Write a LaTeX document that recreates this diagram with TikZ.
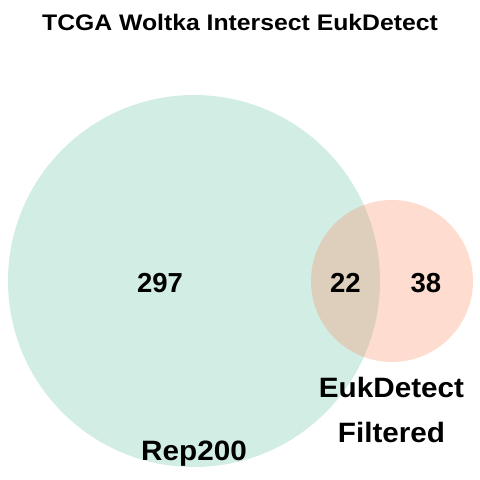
\documentclass[tikz,border=0pt]{standalone}
\usepackage{fontspec}
\setmainfont{Liberation Sans}
\newfontfamily\titlefont[FakeStretch=1.1]{Liberation Sans}
\newfontfamily\setfont[FakeStretch=1.06]{Liberation Sans}
\definecolor{setA}{HTML}{66C2A5}
\definecolor{setB}{HTML}{FC8D62}
\tikzset{
  setcircle/.style={circle, draw=none, inner sep=0pt, fill opacity=0.3},
  countlabel/.style={anchor=base, inner sep=0pt, font=\fontsize{27.5}{30}\selectfont\bfseries},
  setlabel/.style={anchor=base, inner sep=0pt, font=\setfont\fontsize{28}{30}\selectfont\bfseries},
  titlelabel/.style={anchor=base, inner sep=0pt, font=\titlefont\fontsize{22.5}{25}\selectfont\bfseries}
}
\begin{document}
\begin{tikzpicture}[x=1pt,y=-1pt]
\useasboundingbox (0,0) rectangle (480,480);
\node[setcircle, fill=setA, minimum size=372pt] (rep) at (194,281) {};
\node[setcircle, fill=setB, minimum size=162pt] (euk) at (392,281) {};
\node[titlelabel] (title) at (240,30) {TCGA Woltka Intersect EukDetect};
\node[countlabel] (nA) at (160,292) {297};
\node[countlabel] (nAB) at (345.5,292) {22};
\node[countlabel] (nB) at (426,292) {38};
\node[setlabel] (labA) at (194,460) {Rep200};
\node[setlabel] (labB1) at (391.5,397) {EukDetect};
\node[setlabel] (labB2) at (391.5,442) {Filtered};
\end{tikzpicture}
\end{document}
